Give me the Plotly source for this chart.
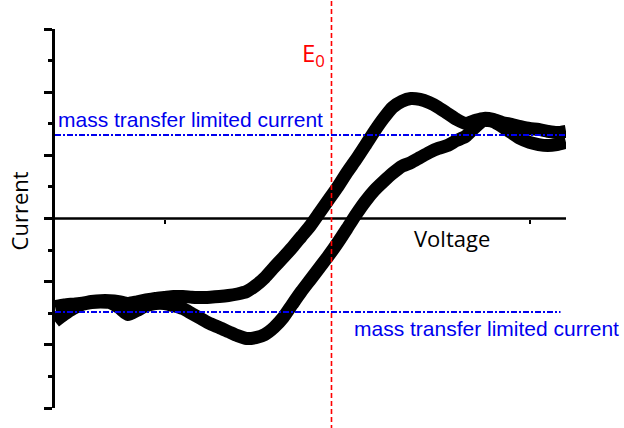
import plotly.graph_objects as go

# Voltage grid (arbitrary units) and two branches of the voltammogram loop
voltage = [-0.60, -0.55, -0.50, -0.45, -0.40, -0.35, -0.30, -0.25, -0.20, -0.15,
           -0.10, -0.05, 0.00, 0.05, 0.10, 0.15, 0.20, 0.25, 0.30, 0.35,
           0.40, 0.45, 0.50, 0.55, 0.60, 0.65, 0.70, 0.75, 0.80, 0.85,
           0.90, 0.95, 1.00, 1.05, 1.10, 1.15, 1.20, 1.25, 1.30, 1.35,
           1.40, 1.45, 1.50, 1.55, 1.60, 1.65, 1.70, 1.75, 1.80, 1.85,
           1.90, 1.95, 2.00, 2.05, 2.10, 2.15, 2.20]

current_upper = [-2.79, -2.74, -2.71, -2.68, -2.63, -2.60, -2.60, -2.63, -2.69, -2.64,
                 -2.58, -2.53, -2.50, -2.47, -2.47, -2.49, -2.50, -2.49, -2.47, -2.44,
                 -2.39, -2.31, -2.12, -1.87, -1.55, -1.24, -0.92, -0.57, -0.22, 0.19,
                 0.60, 1.01, 1.46, 1.87, 2.31, 2.76, 3.17, 3.52, 3.71, 3.80,
                 3.77, 3.67, 3.52, 3.33, 3.14, 3.01, 3.10, 3.17, 3.14, 3.04,
                 2.98, 2.91, 2.85, 2.82, 2.76, 2.72, 2.76]

current_lower = [-3.26, -3.04, -2.85, -2.72, -2.66, -2.64, -2.66, -2.82, -3.04, -2.91,
                 -2.76, -2.69, -2.69, -2.76, -2.85, -3.01, -3.17, -3.33, -3.45, -3.58,
                 -3.71, -3.80, -3.77, -3.67, -3.45, -3.14, -2.72, -2.31, -1.93, -1.55,
                 -1.17, -0.76, -0.32, 0.13, 0.54, 0.89, 1.17, 1.43, 1.65, 1.77,
                 1.93, 2.09, 2.22, 2.31, 2.47, 2.60, 2.88, 3.10, 3.07, 2.91,
                 2.72, 2.53, 2.41, 2.34, 2.31, 2.34, 2.41]

e0_voltage = 0.915
limit_anodic = 2.64
limit_cathodic = -2.96

x_range = [-0.6, 2.2]
y_range = [-6, 6]

fig = go.Figure()
for ys in (current_upper, current_lower):
    fig.add_trace(go.Scatter(x=voltage, y=ys, mode="lines",
                             line=dict(color="black", width=13, shape="spline", smoothing=0.6),
                             showlegend=False, hoverinfo="skip"))

shapes = [
    # zero current line (extends slightly left of the y axis)
    dict(type="line", xref="paper", yref="y", x0=-0.0176, x1=1, y0=0, y1=0,
         line=dict(color="black", width=2.5), layer="above"),
    # E0 marker
    dict(type="line", xref="x", yref="paper", x0=e0_voltage, x1=e0_voltage, y0=-0.1, y1=1.1,
         line=dict(color="#ff0000", width=1.6, dash="5px,3px"), layer="above"),
    # mass transfer limits
    dict(type="line", xref="x", yref="y", x0=x_range[0], x1=x_range[1],
         y0=limit_anodic, y1=limit_anodic,
         line=dict(color="#0000ee", width=2, dash="6px,2px,2px,2px"), layer="above"),
    dict(type="line", xref="x", yref="y", x0=x_range[0], x1=2.17,
         y0=limit_cathodic, y1=limit_cathodic,
         line=dict(color="#0000ee", width=2, dash="6px,2px,2px,2px"), layer="above"),
]

annotations = [
    dict(text="mass transfer limited current", x=-0.594, y=3.13, xref="x", yref="y",
         xanchor="left", yanchor="middle", showarrow=False,
         font=dict(family="Liberation Sans, Arial", size=21, color="#0000ee")),
    dict(text="mass transfer limited current", x=1.03, y=-3.47, xref="x", yref="y",
         xanchor="left", yanchor="middle", showarrow=False,
         font=dict(family="Liberation Sans, Arial", size=21, color="#0000ee")),
    dict(text="E<sub>0</sub>", x=0.742, y=5.2, xref="x", yref="y",
         xanchor="left", yanchor="middle", showarrow=False,
         font=dict(family="Open Sans", size=24, color="#ff0000")),
    dict(text="Voltage", x=1.578, y=-0.62, xref="x", yref="y",
         xanchor="center", yanchor="middle", showarrow=False,
         font=dict(family="Open Sans", size=22, color="black")),
    dict(text="Current", x=-0.0715, y=0.52, xref="paper", yref="paper",
         xanchor="center", yanchor="middle", showarrow=False, textangle=-90,
         font=dict(family="Open Sans", size=22, color="black")),
]

fig.update_layout(
    width=624, height=428,
    margin=dict(l=55, r=58, t=29, b=20),
    paper_bgcolor="white", plot_bgcolor="white",
    shapes=shapes, annotations=annotations,
    xaxis=dict(range=x_range, anchor="free", position=0.5, showline=False,
               showgrid=False, zeroline=False, showticklabels=False,
               ticks="outside", ticklen=4, tickwidth=1.5, tickcolor="black",
               tick0=0, dtick=1),
    yaxis=dict(range=y_range, showline=True, linecolor="black", linewidth=2.5,
               showgrid=False, zeroline=False, showticklabels=False,
               ticks="outside", ticklen=8, tickwidth=2.5, tickcolor="black",
               tick0=0, dtick=2,
               minor=dict(ticks="outside", ticklen=4, tickwidth=2.5, tickcolor="black",
                          tick0=0, dtick=1, showgrid=False)),
)

fig.write_html("out.html")
